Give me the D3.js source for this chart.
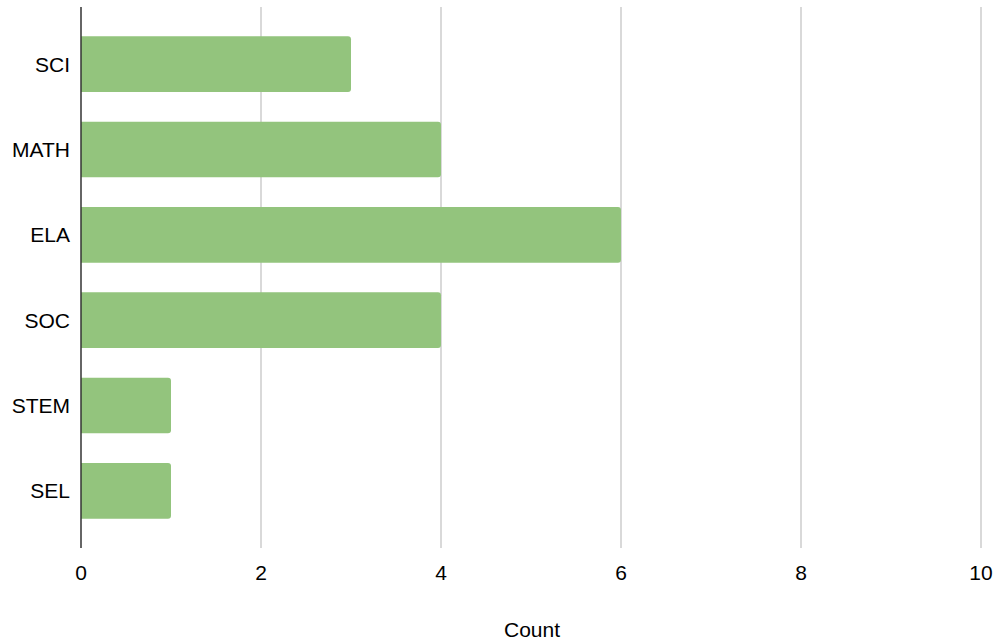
<!DOCTYPE html>
<html><head><meta charset="utf-8">
<script src="https://cdn.jsdelivr.net/npm/d3@7"></script>
<style>body{margin:0;background:#fff;} svg{display:block;font-family:"Liberation Sans",Arial,sans-serif;}</style>
</head><body>
<svg id="c" width="997" height="641"></svg>
<script>
const categories = ["SCI","MATH","ELA","SOC","STEM","SEL"];
const counts = [3,4,6,4,1,1];
const xTicks = [0,2,4,6,8,10];
const xTitle = "Count";

const svg = d3.select("#c");
const x = d3.scaleLinear().domain([0,10]).range([81,981]);
const y = d3.scaleBand().domain(categories).range([7,548]).paddingInner(0.348).paddingOuter(0.344);

svg.append("g").selectAll("line").data(xTicks.filter(d=>d!==0)).join("line")
  .attr("x1",d=>x(d)).attr("x2",d=>x(d)).attr("y1",7).attr("y2",548)
  .attr("stroke","#cccccc").attr("stroke-width",1.5);

const r = 3;
svg.append("g").selectAll("path").data(categories).join("path")
  .attr("fill","#93c47d")
  .attr("d",(c,i)=>{
    const x0 = x(0), x1 = x(counts[i]), y0 = y(c), h = y.bandwidth();
    return `M${x0},${y0}H${x1-r}Q${x1},${y0} ${x1},${y0+r}V${y0+h-r}Q${x1},${y0+h} ${x1-r},${y0+h}H${x0}Z`;
  });

svg.append("line").attr("x1",x(0)).attr("x2",x(0)).attr("y1",7).attr("y2",548)
  .attr("stroke","#333333").attr("stroke-width",1.5);

svg.append("g").selectAll("text").data(categories).join("text")
  .attr("x",70).attr("y",c=>y(c)+y.bandwidth()/2).attr("dy","0.35em")
  .attr("text-anchor","end").attr("font-size",21).attr("fill","#000").text(c=>c);

svg.append("g").selectAll("text").data(xTicks).join("text")
  .attr("x",d=>x(d)).attr("y",580).attr("text-anchor","middle")
  .attr("font-size",21).attr("fill","#000").text(d=>d);

svg.append("text").attr("x",532).attr("y",637).attr("text-anchor","middle")
  .attr("font-size",21).attr("fill","#000").text(xTitle);
</script>
</body></html>
